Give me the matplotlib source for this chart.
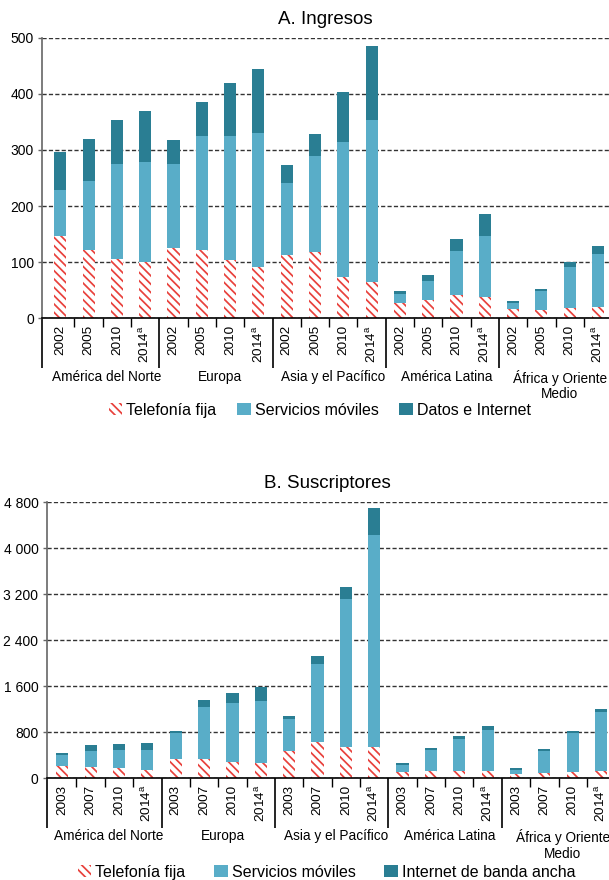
import numpy as np
import matplotlib
matplotlib.use('Agg')
import matplotlib.pyplot as plt
from matplotlib.patches import Patch
from matplotlib.transforms import offset_copy

plt.rcParams.update({'font.family': ['Liberation Sans', 'DejaVu Sans'],
                     'hatch.linewidth': 1.25, 'axes.axisbelow': True})

RED = '#e8413c'
LIGHT = '#59adc8'
DARK = '#2a7e93'
HATCH = '\\\\\\\\'

REGIONS = ['América del Norte', 'Europa', 'Asia y el Pacífico', 'América Latina',
           'África y Oriente\nMedio']
YEARS_A = ['2002', '2005', '2010', '2014$^\\mathregular{a}$']
YEARS_B = ['2003', '2007', '2010', '2014$^\\mathregular{a}$']

# A. Ingresos (segment heights, 4 years x 5 regions)
ing_fija = [147, 121, 105, 100, 126, 121, 104, 91, 113, 119, 74, 64,
            27, 33, 42, 38, 16, 15, 18, 20]
ing_moviles = [82, 124, 170, 178, 149, 204, 221, 239, 128, 170, 240, 289,
               16, 34, 78, 109, 11, 34, 73, 95]
ing_datos = [67, 74, 78, 91, 43, 60, 94, 114, 32, 39, 89, 132,
             6, 10, 21, 39, 4, 3, 9, 14]

# B. Suscriptores
sus_fija = [203, 186, 174, 139, 330, 330, 278, 255, 464, 620, 533, 533,
            99, 116, 116, 116, 64, 81, 99, 116]
sus_moviles = [191, 278, 307, 342, 447, 899, 1021, 1078, 556, 1357, 2574, 3687,
               121, 365, 556, 713, 69, 383, 678, 1026]
sus_banda = [35, 104, 104, 122, 35, 122, 173, 244, 52, 139, 209, 470,
             35, 35, 53, 69, 35, 34, 35, 52]

YT_A = [0, 100, 200, 300, 400, 500]
YT_A_LAB = ['0', '100', '200', '300', '400', '500']
YT_B = [0, 800, 1600, 2400, 3200, 4000, 4800]
YT_B_LAB = ['0', '800', '1 600', '2 400', '3 200', '4 000', '4 800']

W = 0.43


def panel(fig, ax, fija, moviles, otros, years, xlim, ylim, yt, ytl, title):
    fija = np.array(fija)
    moviles = np.array(moviles)
    otros = np.array(otros)
    x = np.arange(len(fija))
    ax.bar(x, fija, W, color='white', edgecolor=RED, hatch=HATCH, linewidth=0)
    ax.bar(x, moviles, W, bottom=fija, color=LIGHT, linewidth=0)
    ax.bar(x, otros, W, bottom=fija + moviles, color=DARK, linewidth=0)

    ax.set_xlim(*xlim)
    ax.set_ylim(*ylim)
    ax.set_yticks(yt)
    ax.set_yticklabels(ytl)
    ax.yaxis.grid(True, linestyle=(0, (3, 1.6)), color='#333333', linewidth=1.0)
    for s in ('top', 'right'):
        ax.spines[s].set_visible(False)
    ax.spines['left'].set_color('#666666')
    ax.spines['left'].set_linewidth(1.2)
    ax.spines['bottom'].set_color('black')
    ax.spines['bottom'].set_linewidth(1.2)
    ax.tick_params(axis='y', length=3, width=1, color='#666666', labelsize=10, pad=3)

    n_grp = len(REGIONS)
    major = [xlim[0]] + [4 * g - 0.5 for g in range(1, n_grp)]
    minor = [4 * g + k + 0.5 for g in range(n_grp) for k in range(3)]
    ax.set_xticks(major)
    ax.set_xticks(minor, minor=True)
    ax.tick_params(axis='x', which='major', length=36, width=1.2, color='black',
                   labelbottom=False)
    ax.tick_params(axis='x', which='minor', length=6.5, width=1.0, color='black',
                   labelbottom=False)

    tr_year = offset_copy(ax.get_xaxis_transform(), fig=fig, y=-5, units='points')
    for i in x:
        ax.text(i, 0, years[i % 4], rotation=90, ha='center', va='top',
                fontsize=9.7, transform=tr_year)
    tr_grp = offset_copy(ax.get_xaxis_transform(), fig=fig, y=-37, units='points')
    for g, name in enumerate(REGIONS):
        ax.text(4 * g + 1.65, 0, name, ha='center', va='top', fontsize=9.8,
                linespacing=1.15, transform=tr_grp)

    ax.set_title(title, fontsize=13.5, pad=10)


fig = plt.figure(figsize=(6.09, 8.80), dpi=100)
ax1 = fig.add_axes([0.0695, 0.6383, 0.9305, 0.3189])
ax2 = fig.add_axes([0.0767, 0.1159, 0.9233, 0.3136])

panel(fig, ax1, ing_fija, ing_moviles, ing_datos, YEARS_A,
      (-0.636, 19.39), (0, 500), YT_A, YT_A_LAB, 'A. Ingresos')
panel(fig, ax2, sus_fija, sus_moviles, sus_banda, YEARS_B,
      (-0.55, 19.28), (0, 4800), YT_B, YT_B_LAB, 'B. Suscriptores')

h_fija = Patch(facecolor='white', edgecolor=RED, hatch=HATCH, linewidth=0)
h_mov = Patch(facecolor=LIGHT, linewidth=0)
h_dark = Patch(facecolor=DARK, linewidth=0)

fig.legend([h_fija, h_mov, h_dark], ['Telefonía fija', 'Servicios móviles', 'Datos e Internet'],
           loc='center', bbox_to_anchor=(0.525, 0.534), ncol=3, frameon=False,
           fontsize=11.5, handlelength=0.85, handleheight=0.85, handletextpad=0.25,
           columnspacing=1.3, borderpad=0)
fig.legend([h_fija, h_mov, h_dark], ['Telefonía fija', 'Servicios móviles', 'Internet de banda ancha'],
           loc='center', bbox_to_anchor=(0.536, 0.009), ncol=3, frameon=False,
           fontsize=11.5, handlelength=0.85, handleheight=0.85, handletextpad=0.25,
           columnspacing=1.8, borderpad=0)

fig.savefig('out.png', dpi=100)
